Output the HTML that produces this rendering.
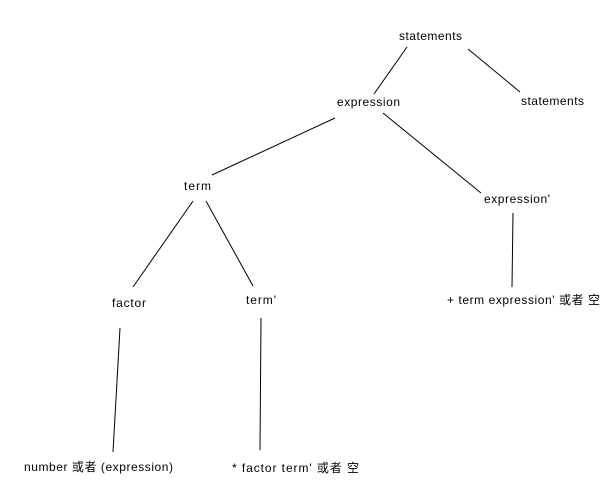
<html><body style="margin:0;width:613px;height:484px;background:#fff;overflow:hidden">
<svg width="613" height="484" style="position:absolute;left:0;top:0" font-family="Liberation Sans, Noto Sans CJK SC, sans-serif" font-size="12" fill="#000">
<g stroke="#000" stroke-width="1">
<line x1="407" y1="47" x2="374" y2="94"/>
<line x1="468" y1="49" x2="520" y2="92"/>
<line x1="335" y1="118" x2="212" y2="175"/>
<line x1="383" y1="113" x2="481" y2="193"/>
<line x1="193" y1="201" x2="133" y2="287"/>
<line x1="206" y1="201" x2="253" y2="286"/>
<line x1="513" y1="213" x2="512" y2="287"/>
<line x1="120" y1="328" x2="113" y2="452"/>
<line x1="261" y1="318" x2="260" y2="450"/>
</g>
<text x="399" y="40" textLength="63">statements</text>
<text x="521" y="105" textLength="63">statements</text>
<text x="337" y="106" textLength="63">expression</text>
<text x="484" y="203" textLength="66">expression'</text>
<text x="184" y="190" textLength="27">term</text>
<text x="112" y="307" textLength="34">factor</text>
<text x="246" y="304" textLength="30">term'</text>
<text x="447" y="304" textLength="153">+ term expression' 或者 空</text>
<text x="24" y="471" textLength="149">number 或者 (expression)</text>
<text x="232" y="472" textLength="127">* factor term' 或者  空</text>
</svg>
</body></html>
